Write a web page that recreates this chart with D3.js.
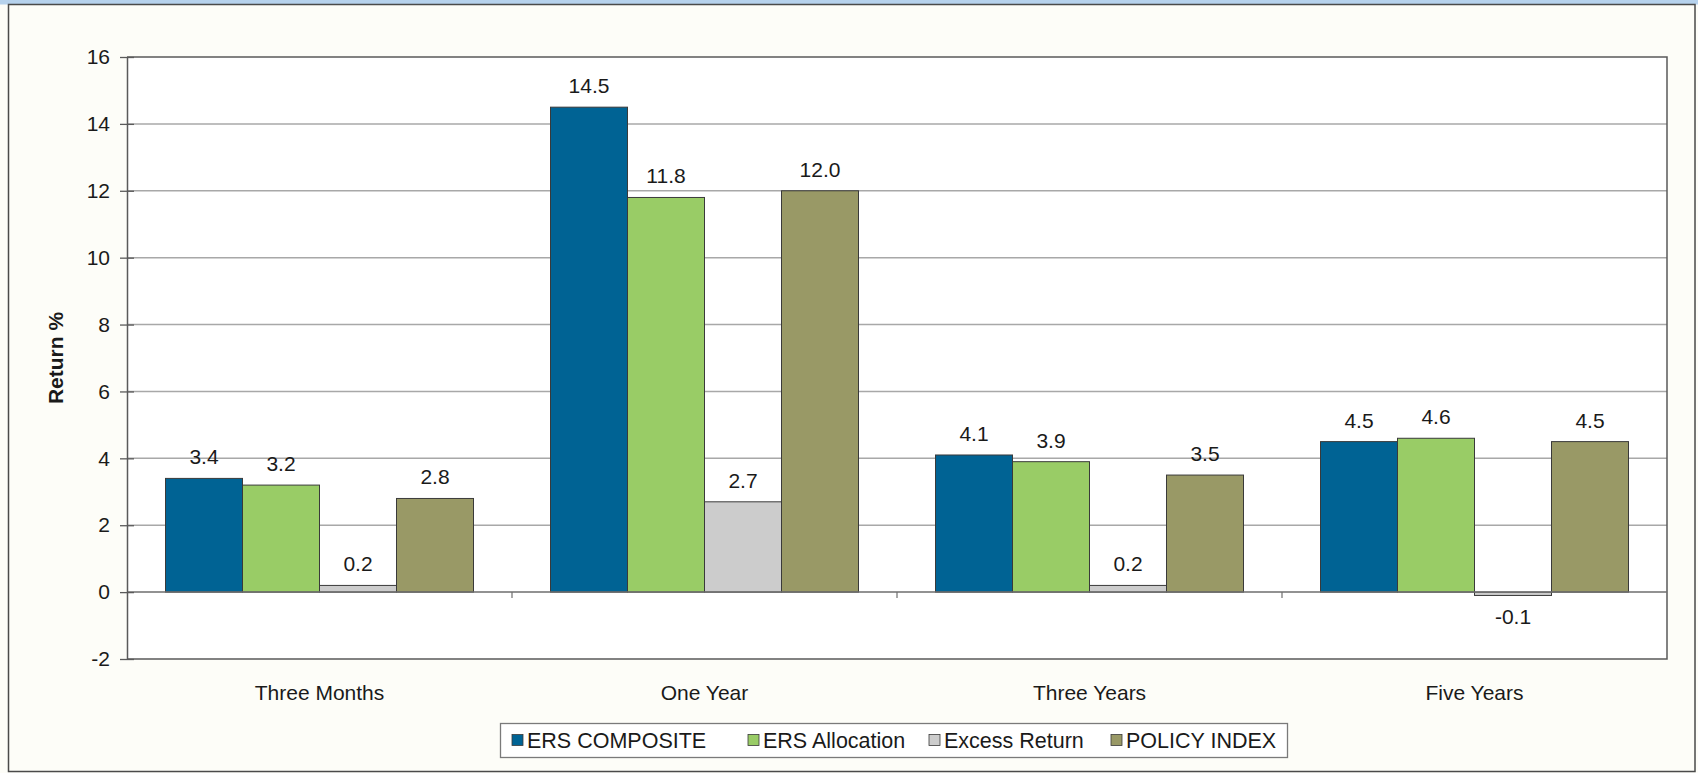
<!DOCTYPE html>
<html>
<head>
<meta charset="utf-8">
<script src="https://cdn.jsdelivr.net/npm/d3@7/dist/d3.min.js"></script>
<style>
  html, body { margin: 0; padding: 0; background: #fdfdf8; }
  svg { display: block; font-family: "Liberation Sans", Arial, sans-serif; }
</style>
</head>
<body>
<svg id="chart" width="1698" height="773"></svg>
<script>
// Periods along the x axis
const categories = ["Three Months", "One Year", "Three Years", "Five Years"];

// Series names and their returns (%) per period
const seriesNames = ["ERS COMPOSITE", "ERS Allocation", "Excess Return", "POLICY INDEX"];
const ersComposite  = [3.4, 14.5, 4.1, 4.5];
const ersAllocation = [3.2, 11.8, 3.9, 4.6];
const excessReturn  = [0.2, 2.7, 0.2, -0.1];
const policyIndex   = [2.8, 12.0, 3.5, 4.5];

// Value axis ticks
const yTicks = [-2, 0, 2, 4, 6, 8, 10, 12, 14, 16];

const seriesValues = [ersComposite, ersAllocation, excessReturn, policyIndex];
const seriesColors = ["#006394", "#99cc66", "#cccccc", "#999966"];

const W = 1698, H = 773;
const plot = { left: 127, right: 1667, top: 57, bottom: 659 };
const font = 21;

const svg = d3.select("#chart");

// Page frame with the blue strip along the top
svg.append("rect").attr("x", 0).attr("y", 0).attr("width", W).attr("height", H).attr("fill", "#fdfdf8");
svg.append("rect").attr("x", 0).attr("y", 0).attr("width", W).attr("height", 4.5).attr("fill", "#b6d2ed");
svg.append("rect").attr("x", 8.5).attr("y", 4.5).attr("width", 1686.5).attr("height", 767)
  .attr("fill", "none").attr("stroke", "#4a4a4a").attr("stroke-width", 1.5);

// Scales
const y = d3.scaleLinear().domain([-2, 16]).range([plot.bottom, plot.top]);
const x0 = d3.scaleBand().domain(categories).range([plot.left, plot.right]).padding(0);
const x1 = d3.scaleBand().domain(d3.range(seriesNames.length))
  .range([0, x0.bandwidth()]).paddingInner(0).paddingOuter(0.5);

// Plot area
svg.append("rect").attr("x", plot.left).attr("y", plot.top)
  .attr("width", plot.right - plot.left).attr("height", plot.bottom - plot.top)
  .attr("fill", "#ffffff");

// Horizontal gridlines
svg.append("g").selectAll("line")
  .data(yTicks.filter(t => t !== -2 && t !== 16 && t !== 0))
  .join("line")
  .attr("x1", plot.left).attr("x2", plot.right)
  .attr("y1", d => y(d)).attr("y2", d => y(d))
  .attr("stroke", "#a8a8a8").attr("stroke-width", 1.5);

// Plot border (top, right, bottom)
svg.append("path")
  .attr("d", `M${plot.left},${plot.top}H${plot.right}V${plot.bottom}H${plot.left}`)
  .attr("fill", "none").attr("stroke", "#5a5a5a").attr("stroke-width", 1.5);

// Bars
const rows = [];
categories.forEach((c, ci) => {
  seriesValues.forEach((vals, si) => rows.push({ c, si, v: vals[ci] }));
});

const barG = svg.append("g");
barG.selectAll("rect").data(rows).join("rect")
  .attr("x", d => x0(d.c) + x1(d.si))
  .attr("width", x1.bandwidth())
  .attr("y", d => y(Math.max(0, d.v)))
  .attr("height", d => Math.abs(y(d.v) - y(0)))
  .attr("fill", d => seriesColors[d.si])
  .attr("stroke", "#3a3a3a").attr("stroke-width", 1);

// Value labels
svg.append("g").selectAll("text").data(rows).join("text")
  .attr("x", d => x0(d.c) + x1(d.si) + x1.bandwidth() / 2)
  .attr("y", d => d.v >= 0 ? y(d.v) - 14 : y(d.v) + 29)
  .attr("text-anchor", "middle")
  .attr("font-size", font).attr("fill", "#1a1a1a")
  .text(d => d.v.toFixed(1));

// Category axis at zero
svg.append("line").attr("x1", plot.left).attr("x2", plot.right)
  .attr("y1", y(0)).attr("y2", y(0))
  .attr("stroke", "#6e6e6e").attr("stroke-width", 1.5);
const xAxis = d3.axisBottom(x0).tickSize(0).tickPadding(0);
svg.append("g").selectAll("line")
  .data(categories.slice(1))
  .join("line")
  .attr("x1", d => x0(d)).attr("x2", d => x0(d))
  .attr("y1", y(0)).attr("y2", y(0) + 6)
  .attr("stroke", "#6e6e6e").attr("stroke-width", 1.2);

// Category labels beneath the plot
const catG = svg.append("g").attr("transform", `translate(0,${plot.bottom})`).call(xAxis);
catG.select(".domain").remove();
catG.selectAll("text")
  .attr("font-size", font).attr("font-family", "Liberation Sans, Arial, sans-serif")
  .attr("fill", "#1a1a1a").attr("y", 41).attr("dy", 0);

// Value axis
const yAxis = d3.axisLeft(y).tickValues(yTicks).tickSizeInner(0).tickSizeOuter(0).tickPadding(17)
  .tickFormat(d => String(d));
const yG = svg.append("g").attr("transform", `translate(${plot.left},0)`).call(yAxis);
yG.select(".domain").attr("stroke", "#5a5a5a").attr("stroke-width", 1.5);
yG.selectAll("text").attr("font-size", font).attr("font-family", "Liberation Sans, Arial, sans-serif")
  .attr("fill", "#1a1a1a");
yG.selectAll(".tick").append("line")
  .attr("x1", -7).attr("x2", 7).attr("y1", 0).attr("y2", 0)
  .attr("stroke", "#5a5a5a").attr("stroke-width", 1.3);

// Value axis title
svg.append("text")
  .attr("transform", `translate(63,${(plot.top + plot.bottom) / 2}) rotate(-90)`)
  .attr("text-anchor", "middle")
  .attr("font-size", font).attr("font-weight", "bold").attr("fill", "#1a1a1a")
  .text("Return %");

// Legend
const legendBox = { x: 500, y: 723, w: 787, h: 34 };
const legendItemX = [512, 748, 929, 1111];
const lg = svg.append("g");
lg.append("rect").attr("x", legendBox.x + 0.5).attr("y", legendBox.y + 0.5)
  .attr("width", legendBox.w).attr("height", legendBox.h)
  .attr("fill", "#ffffff").attr("stroke", "#7a7a7a").attr("stroke-width", 1.3);
const items = lg.selectAll("g").data(seriesNames).join("g")
  .attr("transform", (d, i) => `translate(${legendItemX[i]},${legendBox.y + legendBox.h / 2})`);
items.append("rect").attr("x", 0).attr("y", -5.5).attr("width", 11).attr("height", 11)
  .attr("fill", (d, i) => seriesColors[i]).attr("stroke", "#3a3a3a").attr("stroke-width", 0.8);
items.append("text").attr("x", 15).attr("dy", "0.36em")
  .attr("font-size", 21.5).attr("fill", "#1a1a1a")
  .text(d => d);
</script>
</body>
</html>
